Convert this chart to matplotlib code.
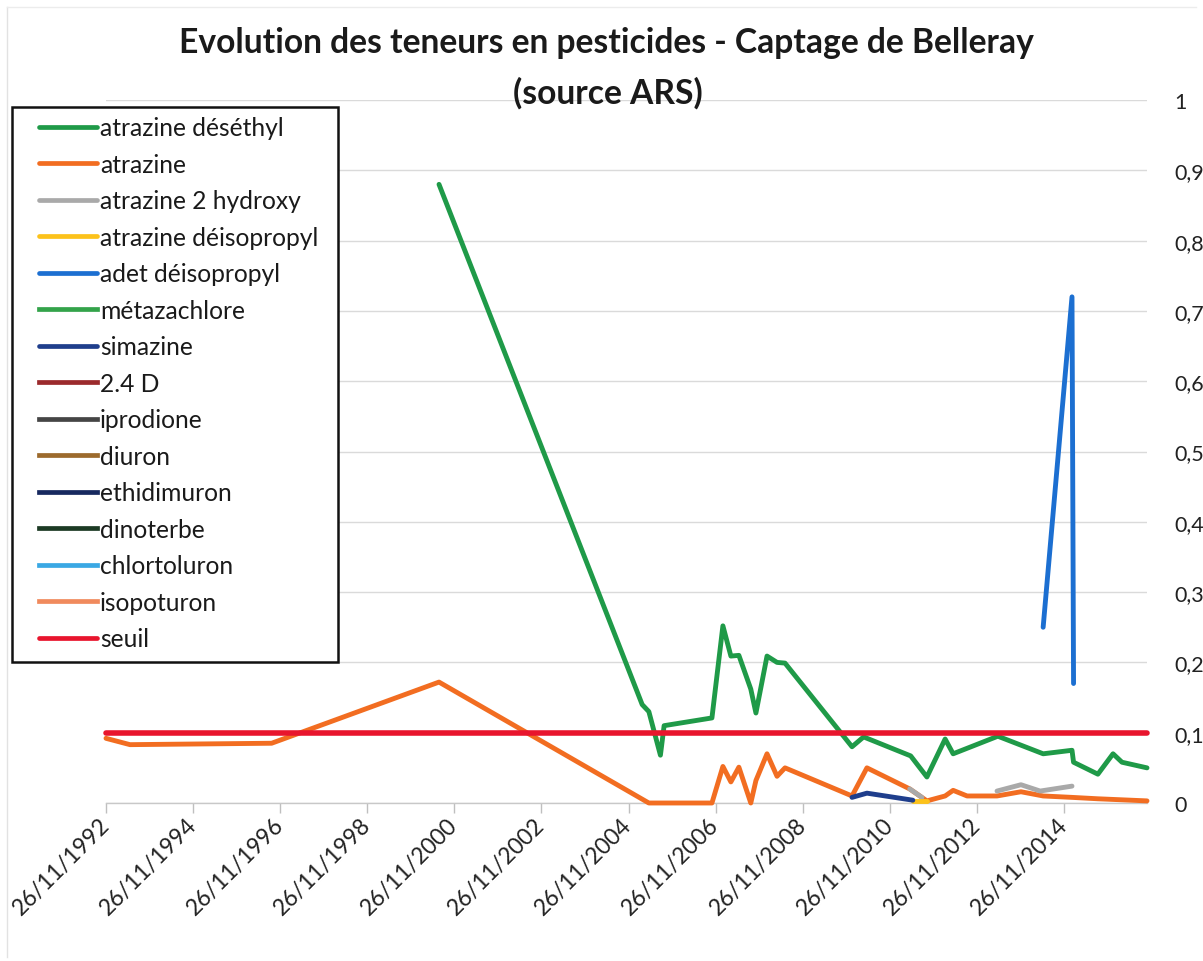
import matplotlib
matplotlib.use("Agg")
import matplotlib.pyplot as plt
import matplotlib.patches as mpatches
from matplotlib.lines import Line2D
import numpy as np
import pandas as pd

# ---------------- data ----------------
series_names = ["atrazine déséthyl", "atrazine", "atrazine 2 hydroxy", "atrazine déisopropyl",
                "adet déisopropyl", "métazachlore", "simazine", "2.4 D", "iprodione", "diuron",
                "ethidimuron", "dinoterbe", "chlortoluron", "isopoturon", "seuil"]

deseth_dates = ["2000-07-20", "2005-03-20", "2005-05-15", "2005-08-20", "2005-09-20", "2006-10-26",
                "2007-01-26", "2007-04-03", "2007-06-09", "2007-09-17", "2007-10-30", "2008-01-31",
                "2008-04-24", "2008-06-30", "2010-01-13", "2010-04-20", "2011-05-20", "2011-10-03",
                "2012-03-04", "2012-05-10", "2013-05-20", "2014-06-04", "2015-02-01", "2015-02-14",
                "2015-09-06", "2016-01-11", "2016-03-26", "2016-10-22"]
deseth_vals = [0.88, 0.14, 0.13, 0.068, 0.11, 0.121,
               0.252, 0.209, 0.21, 0.162, 0.128, 0.209,
               0.20, 0.199, 0.08, 0.094, 0.067, 0.037,
               0.091, 0.07, 0.095, 0.07, 0.075, 0.058,
               0.041, 0.07, 0.058, 0.05]

atr_dates = ["1992-11-26", "1993-06-15", "1996-09-15", "2000-07-20", "2005-05-15", "2006-10-26",
             "2007-01-26", "2007-04-03", "2007-06-09", "2007-09-17", "2007-10-30", "2008-01-31",
             "2008-04-24", "2008-06-30", "2010-01-13", "2010-05-18", "2011-05-12", "2011-10-03",
             "2012-03-04", "2012-05-10", "2012-09-04", "2013-05-13", "2013-11-30", "2014-06-04",
             "2015-02-01", "2015-09-06", "2016-10-22"]
atr_vals = [0.092, 0.083, 0.085, 0.172, 0.0, 0.0,
            0.052, 0.030, 0.051, 0.0, 0.032, 0.070,
            0.038, 0.050, 0.010, 0.050, 0.020, 0.003,
            0.010, 0.018, 0.010, 0.010, 0.016, 0.010,
            0.008, 0.006, 0.003]

hyd_dates = ["2011-05-12", "2011-08-22", "2012-06-01", "2013-05-13", "2013-11-30", "2014-05-10", "2015-02-01"]
hyd_vals = [0.020, 0.008, np.nan, 0.017, 0.026, 0.017, 0.024]

deiso_dates = ["2011-06-07", "2011-10-03"]
deiso_vals = [0.003, 0.003]

adet_dates = ["2014-06-04", "2015-02-01", "2015-02-14"]
adet_vals = [0.25, 0.72, 0.17]

sima_dates = ["2010-01-13", "2010-05-18", "2011-06-07"]
sima_vals = [0.008, 0.014, 0.004]

seuil_dates = ["1992-11-26", "2016-10-22"]
seuil_vals = [0.1, 0.1]

tick_dates = ["1992-11-26", "1994-11-26", "1996-11-26", "1998-11-26", "2000-11-26", "2002-11-26",
              "2004-11-26", "2006-11-26", "2008-11-26", "2010-11-26", "2012-11-26", "2014-11-26"]
tick_labels = ["26/11/1992", "26/11/1994", "26/11/1996", "26/11/1998", "26/11/2000", "26/11/2002",
               "26/11/2004", "26/11/2006", "26/11/2008", "26/11/2010", "26/11/2012", "26/11/2014"]
y_ticks = [0, 0.1, 0.2, 0.3, 0.4, 0.5, 0.6, 0.7, 0.8, 0.9, 1.0]
y_labels = ["0", "0,1", "0,2", "0,3", "0,4", "0,5", "0,6", "0,7", "0,8", "0,9", "1"]

colors = ["#1f9a48", "#f26d21", "#a9a9a9", "#fcc21b", "#1c6fd1", "#33a34a", "#1f3e8c",
          "#9b2a2c", "#454545", "#9c6a2c", "#17295f", "#1c3a24", "#3aa8e4", "#f08a5d", "#e8152d"]

series_data = {
    "atrazine déséthyl": (deseth_dates, deseth_vals),
    "atrazine": (atr_dates, atr_vals),
    "atrazine 2 hydroxy": (hyd_dates, hyd_vals),
    "atrazine déisopropyl": (deiso_dates, deiso_vals),
    "adet déisopropyl": (adet_dates, adet_vals),
    "simazine": (sima_dates, sima_vals),
    "seuil": (seuil_dates, seuil_vals),
}

# ---------------- figure ----------------
W, H = 1203, 962
FONT = "Lato"
fig = plt.figure(figsize=(W / 100, H / 100), dpi=100)
fig.patch.set_facecolor("white")

# faint chart-area border (left and top edges visible in the scan)
fig.add_artist(Line2D([7 / W, 7 / W], [1 - 958 / H, 1 - 8 / H], transform=fig.transFigure,
                      color="#e2e2e2", lw=1.0, zorder=0))
fig.add_artist(Line2D([7 / W, 1196 / W], [1 - 8 / H, 1 - 8 / H], transform=fig.transFigure,
                      color="#ececec", lw=1.0, zorder=0))

ax_l, ax_r, ax_t, ax_b = 106, 1147, 101, 804
ax = fig.add_axes([ax_l / W, 1 - ax_b / H, (ax_r - ax_l) / W, (ax_b - ax_t) / H])
ax.patch.set_alpha(0)

handles = []
for i, name in enumerate(series_names):
    lw = 4.0 if name == "seuil" else 3.5
    if name in series_data:
        d, v = series_data[name]
        ln, = ax.plot(pd.to_datetime(d), v, color=colors[i], lw=lw, label=name,
                      solid_capstyle="round", solid_joinstyle="round", clip_on=False, zorder=3 + i)
    else:
        ln, = ax.plot([], [], color=colors[i], lw=lw, label=name)
    handles.append(ln)

ax.set_xlim(pd.Timestamp(seuil_dates[0]), pd.Timestamp(seuil_dates[-1]))
ax.set_ylim(0, 1)

ax.set_xticks(pd.to_datetime(tick_dates))
ax.set_xticklabels(tick_labels, rotation=45, ha="right", va="center",
                   rotation_mode="anchor", fontsize=16.5, family=FONT, color="#222222")
ax.tick_params(axis="x", length=7, width=1, color="#bfbfbf", pad=6)

ax.yaxis.tick_right()
ax.set_yticks(y_ticks)
ax.set_yticklabels(y_labels, fontsize=15.5, family=FONT, color="#222222")
ax.tick_params(axis="y", length=0, pad=20)
ax.yaxis.grid(True, color="#dadada", lw=1.0)
ax.set_axisbelow(True)
for s in ["top", "left", "right"]:
    ax.spines[s].set_visible(False)
ax.spines["bottom"].set_color("#c8c8c8")
ax.spines["bottom"].set_linewidth(1.0)

# ---------------- title ----------------
fig.canvas.draw()
renderer = fig.canvas.get_renderer()

t1 = fig.text(606 / W, 1 - 43 / H, "Evolution des teneurs en pesticides - Captage de Belleray",
              ha="center", va="center", fontweight="bold", family=FONT, fontsize=24, color="#1a1a1a")
wb = t1.get_window_extent(renderer).width
tfs = 24 * 857 / wb
t1.set_fontsize(tfs)
t2 = fig.text(608 / W, 1 - 93 / H, "(source ARS)", ha="center", va="center",
              fontweight="bold", family=FONT, fontsize=tfs, color="#1a1a1a")

# ---------------- legend ----------------
tmp = fig.text(0, 0, "atrazine déisopropyl", family=FONT, fontsize=17)
lfs = 17 * 218 / tmp.get_window_extent(renderer).width
tmp.remove()
em = lfs * 100 / 72

box = mpatches.Rectangle((12 / W, 1 - 663 / H), 326 / W, 555 / H, transform=fig.transFigure,
                         facecolor="white", edgecolor="#111111", lw=1.8, zorder=2)
fig.patches.append(box)


def make_legend(ls, top):
    lg = fig.legend(handles, series_names, loc="upper left", bbox_to_anchor=(39 / W, 1 - top / H),
                    frameon=False, borderpad=0, borderaxespad=0, handlelength=58 / em,
                    handletextpad=3 / em, labelspacing=ls, prop={"family": FONT, "size": lfs})
    lg.set_zorder(5)
    for t in lg.get_texts():
        t.set_color("#1a1a1a")
    for l in lg.get_lines():
        l.set_linewidth(3.4)
    return lg


ls = 0.4
top = 115
leg = make_legend(ls, top)
fig.canvas.draw()
tx = leg.get_texts()
c0 = tx[0].get_window_extent(renderer)
cN = tx[-1].get_window_extent(renderer)
pitch = ((c0.y0 + c0.y1) / 2 - (cN.y0 + cN.y1) / 2) / 14
ls = ls + (36.5 - pitch) / em
leg.remove()
leg = make_legend(ls, top)
fig.canvas.draw()
c0 = leg.get_texts()[0].get_window_extent(renderer)
cy = H - (c0.y0 + c0.y1) / 2
top = top + (129 - cy)
leg.remove()
leg = make_legend(ls, top)

fig.savefig("out.png", dpi=100, facecolor="white")
